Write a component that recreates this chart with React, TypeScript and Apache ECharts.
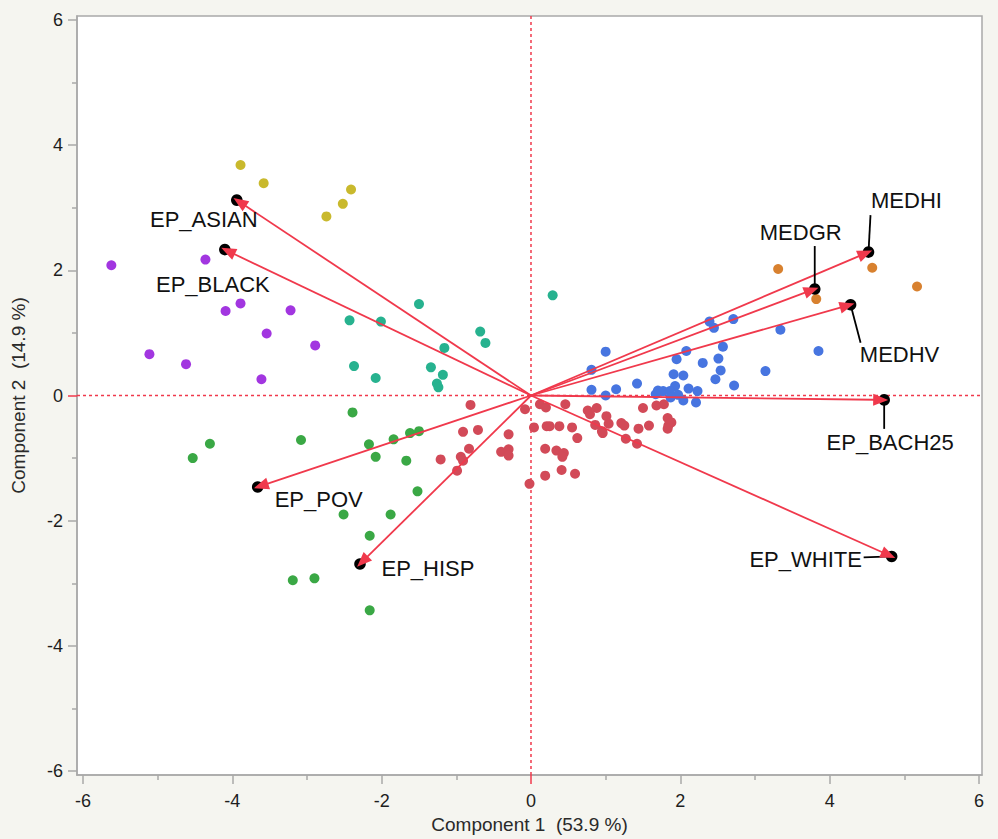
import React, { useEffect, useRef } from "react";
import * as echarts from "echarts";

// ---- axis ranges & ticks ----
const X_MIN = -6.08;
const X_MAX = 6.04;
const Y_MIN = -6.06;
const Y_MAX = 6.06;
const majorTicks = [-6, -4, -2, 2, 4, 6];
const tickLabels = [-6, -4, -2, 0, 2, 4, 6];
const minorTicks = [-5, -3, -1, 1, 3, 5];
const xTitle = "Component 1  (53.9 %)";
const yTitle = "Component 2  (14.9 %)";

// ---- score clusters ----
const yellowPts = [
  [-3.89, 3.68], [-3.58, 3.39], [-2.41, 3.29], [-2.52, 3.06], [-2.74, 2.86],
];
const purplePts = [
  [-5.62, 2.08], [-4.36, 2.17], [-3.89, 1.47], [-4.09, 1.35], [-3.22, 1.36],
  [-3.54, 0.99], [-2.89, 0.8], [-5.11, 0.66], [-4.62, 0.5], [-3.61, 0.26],
];
const tealPts = [
  [-2.43, 1.2], [-2.01, 1.18], [-2.37, 0.47], [-2.08, 0.28], [-1.5, 1.46],
  [0.29, 1.6], [-0.68, 1.02], [-0.61, 0.84], [-1.16, 0.76], [-1.34, 0.45],
  [-1.18, 0.33], [-1.26, 0.19], [-1.24, 0.13],
];
const greenPts = [
  [-2.39, -0.27], [-4.3, -0.77], [-4.53, -1.0], [-3.08, -0.71], [-2.17, -0.78],
  [-1.84, -0.7], [-1.62, -0.6], [-1.5, -0.57], [-2.08, -0.98], [-1.67, -1.04],
  [-1.52, -1.53], [-2.51, -1.9], [-1.88, -1.9], [-2.16, -2.24], [-3.19, -2.95],
  [-2.9, -2.92], [-2.16, -3.43],
];
const redPts = [
  [-0.81, -0.15], [-0.91, -0.58], [-0.71, -0.55], [-0.83, -0.85], [-1.21, -1.02],
  [-0.94, -0.98], [-0.91, -1.04], [-0.99, -1.2], [-0.3, -0.62], [-0.4, -0.9],
  [-0.3, -0.86], [-0.3, -0.96], [-0.08, -0.22], [-0.02, -1.41], [0.12, -0.14],
  [0.2, -0.19], [0.46, -0.14], [0.04, -0.51], [0.21, -0.49], [0.25, -0.49],
  [0.38, -0.49], [0.55, -0.51], [0.62, -0.68], [0.19, -0.85], [0.34, -0.88],
  [0.44, -0.92], [0.42, -0.98], [0.41, -1.19], [0.19, -1.28], [0.59, -1.25],
  [0.76, -0.24], [0.88, -0.2], [0.79, -0.3], [1.01, -0.33], [0.86, -0.47],
  [1.04, -0.45], [0.95, -0.57], [0.96, -0.6], [1.21, -0.44], [1.25, -0.48],
  [1.44, -0.53], [1.58, -0.48], [1.27, -0.69], [1.42, -0.77], [1.5, -0.2],
  [1.68, -0.16], [1.78, -0.14], [1.83, -0.36], [1.88, -0.43], [1.84, -0.48],
  [1.83, -0.53],
];
const bluePts = [
  [1.0, 0.7], [0.81, 0.41], [0.81, 0.09], [1.0, 0.0], [1.14, 0.1],
  [1.42, 0.19], [2.39, 1.18], [2.45, 1.08], [2.71, 1.22], [2.08, 0.71],
  [1.95, 0.58], [2.57, 0.78], [2.51, 0.59], [2.3, 0.52], [2.54, 0.4],
  [2.47, 0.26], [3.34, 1.05], [3.85, 0.71], [3.14, 0.39], [2.72, 0.16],
  [1.91, 0.34], [2.04, 0.32], [1.93, 0.15], [2.11, 0.11], [2.23, 0.07],
  [1.7, 0.08], [1.77, 0.07], [1.86, 0.07], [1.67, 0.02], [1.97, 0.01],
  [2.04, -0.08], [2.21, -0.11], [1.87, -0.03],
];
const orangePts = [
  [3.31, 2.02], [4.57, 2.04], [5.17, 1.74], [3.82, 1.54],
];

// ---- loadings (biplot arrows) ----
const loadingNames = [
  "EP_ASIAN", "EP_BLACK", "EP_POV", "EP_HISP",
  "MEDHI", "MEDGR", "MEDHV", "EP_BACH25", "EP_WHITE",
];
const loadingX = [-3.94, -4.1, -3.66, -2.29, 4.52, 3.8, 4.28, 4.73, 4.83];
const loadingY = [3.12, 2.33, -1.46, -2.69, 2.29, 1.7, 1.45, -0.07, -2.57];

// ---- label placement (pixel offsets from the loading point) ----
const labelLayout: Record<string, { dx: number; dy: number; lead?: number[] }> = {
  EP_ASIAN: { dx: -33, dy: 19 },
  EP_BLACK: { dx: -12, dy: 35 },
  EP_POV: { dx: 61, dy: 13 },
  EP_HISP: { dx: 68, dy: 5 },
  MEDHI: { dx: 38, dy: -52, lead: [0, 0, 2, -37] },
  MEDGR: { dx: -14, dy: -57, lead: [0, 0, 0, -43] },
  MEDHV: { dx: 49, dy: 50, lead: [0, 0, 10, 38] },
  EP_BACH25: { dx: 6, dy: 43, lead: [0, 0, 0, 29] },
  EP_WHITE: { dx: -86, dy: 3, lead: [0, 0, -28, 1] },
};

const FONT = "'Liberation Sans', Arial, Helvetica, sans-serif";
const ARROW = "#f0394c";
const AXIS_GRAY = "#a9a9a9";

export default function App() {
  const ref = useRef<HTMLDivElement>(null);

  useEffect(() => {
    if (!ref.current) return;
    const chart = echarts.init(ref.current, undefined, { renderer: "svg" });

    const baseAxis = (extra: any) => ({
      type: "value",
      splitLine: { show: false },
      ...extra,
    });

    const tickOnly = (min: number, max: number, pos: string, values: number[], len: number, color: string) =>
      baseAxis({
        min,
        max,
        position: pos,
        axisLine: { show: false, onZero: false },
        axisTick: { show: true, customValues: values, length: len, lineStyle: { color, width: 1.5 } },
        axisLabel: { show: false },
      });

    const xAxes = [
      baseAxis({
        min: X_MIN,
        max: X_MAX,
        position: "bottom",
        axisLine: { show: true, onZero: false, lineStyle: { color: AXIS_GRAY, width: 1.5 } },
        axisTick: { show: true, customValues: majorTicks, length: 9, lineStyle: { color: AXIS_GRAY, width: 1.5 } },
        axisLabel: { customValues: tickLabels, fontSize: 18, color: "#1e1e1e", fontFamily: FONT, margin: 17 },
        name: xTitle,
        nameLocation: "middle",
        nameGap: 40,
        nameTextStyle: { fontSize: 19, color: "#2a2a2a", fontFamily: FONT },
      }),
      tickOnly(X_MIN, X_MAX, "bottom", minorTicks, 5, AXIS_GRAY),
      tickOnly(X_MIN, X_MAX, "bottom", [0], 9, ARROW),
    ];
    const yAxes = [
      baseAxis({
        min: Y_MIN,
        max: Y_MAX,
        position: "left",
        axisLine: { show: true, onZero: false, lineStyle: { color: AXIS_GRAY, width: 1.5 } },
        axisTick: { show: true, customValues: majorTicks, length: 9, lineStyle: { color: AXIS_GRAY, width: 1.5 } },
        axisLabel: { customValues: tickLabels, fontSize: 18, color: "#1e1e1e", fontFamily: FONT, margin: 14 },
        name: yTitle,
        nameLocation: "middle",
        nameGap: 49,
        nameTextStyle: { fontSize: 19, color: "#2a2a2a", fontFamily: FONT },
      }),
      tickOnly(Y_MIN, Y_MAX, "left", minorTicks, 5, AXIS_GRAY),
      tickOnly(Y_MIN, Y_MAX, "left", [0], 9, ARROW),
    ];

    const scatter = (data: number[][], color: string) => ({
      type: "scatter",
      data,
      symbol: "circle",
      symbolSize: 10,
      itemStyle: { color, opacity: 1 },
      z: 3,
      silent: true,
    });

    const loadingData = loadingNames.map((n, i) => ({ name: n, value: [loadingX[i], loadingY[i]] }));

    const option: any = {
      animation: false,
      backgroundColor: "#f5f5f0",
      grid: {
        left: 77,
        top: 16,
        width: 905,
        height: 761,
        show: true,
        backgroundColor: "#ffffff",
        borderColor: AXIS_GRAY,
        borderWidth: 1.5,
        containLabel: false,
      },
      xAxis: xAxes,
      yAxis: yAxes,
      series: [
        {
          type: "line",
          data: [[0, Y_MIN], [0, Y_MAX]],
          symbol: "none",
          lineStyle: { color: ARROW, width: 1.5, type: [3, 3] },
          z: 1,
          silent: true,
        },
        {
          type: "line",
          data: [[X_MIN, 0], [X_MAX, 0]],
          symbol: "none",
          lineStyle: { color: ARROW, width: 1.5, type: [3, 3] },
          z: 1,
          silent: true,
        },
        scatter(yellowPts, "#c9b92d"),
        scatter(purplePts, "#a236e0"),
        scatter(tealPts, "#27b28f"),
        scatter(greenPts, "#3aa845"),
        scatter(redPts, "#d24a58"),
        scatter(bluePts, "#4775e0"),
        scatter(orangePts, "#d8812f"),
        {
          type: "custom",
          data: loadingData,
          clip: false,
          z: 10,
          silent: true,
          renderItem: (params: any, api: any) => {
            const x = api.value(0);
            const y = api.value(1);
            const o = api.coord([0, 0]);
            const p = api.coord([x, y]);
            const dx = p[0] - o[0];
            const dy = p[1] - o[1];
            const L = Math.hypot(dx, dy) || 1;
            const ux = dx / L;
            const uy = dy / L;
            const tip = [p[0] + ux * 4, p[1] + uy * 4];
            const base = [tip[0] - ux * 15, tip[1] - uy * 15];
            const nx = -uy;
            const ny = ux;
            const name = loadingNames[params.dataIndex];
            const lay = labelLayout[name];
            const children: any[] = [];
            if (lay.lead) {
              children.push({
                type: "line",
                shape: {
                  x1: p[0] + lay.lead[0], y1: p[1] + lay.lead[1],
                  x2: p[0] + lay.lead[2], y2: p[1] + lay.lead[3],
                },
                style: { stroke: "#000", lineWidth: 1.8 },
              });
            }
            children.push({
              type: "circle",
              shape: { cx: p[0], cy: p[1], r: 5.8 },
              style: { fill: "#000" },
            });
            children.push({
              type: "line",
              shape: { x1: o[0], y1: o[1], x2: base[0] + ux * 2, y2: base[1] + uy * 2 },
              style: { stroke: ARROW, lineWidth: 1.8 },
            });
            children.push({
              type: "polygon",
              shape: {
                points: [
                  tip,
                  [base[0] + nx * 6, base[1] + ny * 6],
                  [base[0] - nx * 6, base[1] - ny * 6],
                ],
              },
              style: { fill: ARROW },
            });
            children.push({
              type: "text",
              style: {
                text: name,
                x: p[0] + lay.dx,
                y: p[1] + lay.dy,
                fill: "#111",
                fontSize: 22,
                fontFamily: FONT,
                align: "center",
                verticalAlign: "middle",
              },
            });
            return { type: "group", children };
          },
        },
      ],
    };

    chart.setOption(option);
    return () => chart.dispose();
  }, []);

  return (
    <div
      ref={ref}
      style={{ position: "fixed", left: 0, top: 0, width: 998, height: 839 }}
    />
  );
}
